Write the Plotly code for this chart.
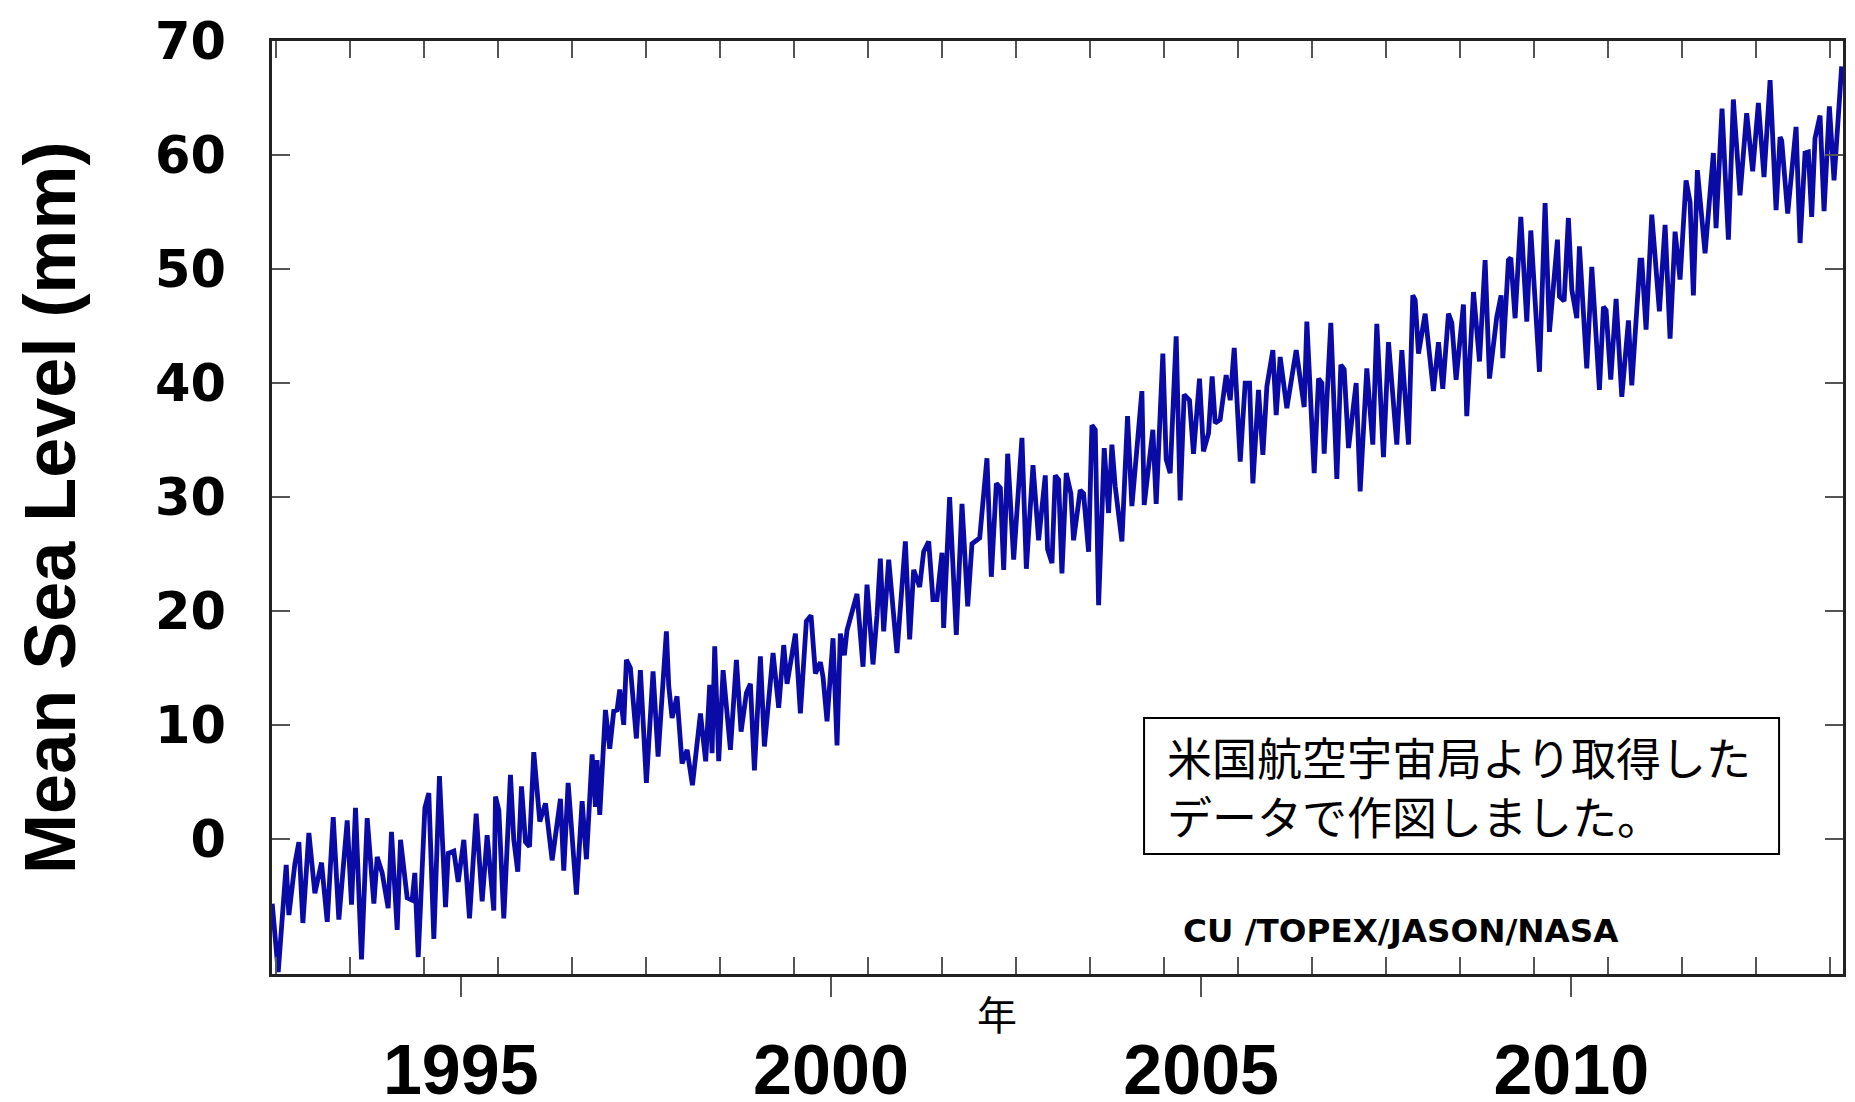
import plotly.graph_objects as go

# --- data (decimal year, mean sea level in mm) ---
years = [
    1992.453, 1992.534, 1992.642, 1992.678, 1992.759, 1992.813, 1992.867, 1992.948, 1993.029, 1993.119,
    1993.196, 1993.277, 1993.353, 1993.466, 1993.524, 1993.578, 1993.659, 1993.736, 1993.826, 1993.871,
    1993.938, 1994.019, 1994.064, 1994.141, 1994.186, 1994.276, 1994.343, 1994.379, 1994.425, 1994.515,
    1994.568, 1994.636, 1994.712, 1994.794, 1994.830, 1994.906, 1994.965, 1995.041, 1995.118, 1995.208,
    1995.289, 1995.356, 1995.446, 1995.469, 1995.514, 1995.581, 1995.671, 1995.716, 1995.770, 1995.820,
    1995.874, 1995.928, 1995.986,
    1996.067, 1996.144, 1996.234, 1996.346, 1996.391, 1996.450, 1996.562, 1996.639, 1996.697, 1996.774,
    1996.819, 1996.841, 1996.877, 1996.954, 1997.012, 1997.066, 1997.111, 1997.147, 1997.201,
    1997.237, 1997.291, 1997.372, 1997.426, 1997.507, 1997.597, 1997.665, 1997.777, 1997.809, 1997.854,
    1997.921, 1997.989, 1998.057, 1998.129, 1998.237, 1998.308, 1998.362, 1998.394, 1998.430, 1998.484,
    1998.543, 1998.642, 1998.723, 1998.786, 1998.858, 1998.912, 1998.966, 1999.047, 1999.101, 1999.159,
    1999.218, 1999.294, 1999.362,
    1999.407, 1999.520, 1999.587, 1999.668, 1999.731, 1999.790, 1999.857, 1999.893, 1999.947, 2000.028,
    2000.082, 2000.127, 2000.181, 2000.217, 2000.352, 2000.433, 2000.487, 2000.568, 2000.622, 2000.667,
    2000.712, 2000.780, 2000.892, 2001.005, 2001.063, 2001.117, 2001.198, 2001.252, 2001.320, 2001.378,
    2001.432, 2001.500, 2001.522, 2001.603, 2001.693, 2001.770, 2001.847, 2001.905, 2002.009, 2002.107,
    2002.166, 2002.234, 2002.288, 2002.333, 2002.387, 2002.468, 2002.580, 2002.639, 2002.729, 2002.805,
    2002.895,
    2002.926, 2002.985, 2003.030, 2003.075, 2003.120, 2003.178, 2003.241, 2003.277, 2003.367, 2003.412,
    2003.480, 2003.525, 2003.570, 2003.615, 2003.691, 2003.750, 2003.795, 2003.840, 2003.930, 2004.006,
    2004.065, 2004.200, 2004.231, 2004.348, 2004.393, 2004.483, 2004.528, 2004.582, 2004.663, 2004.717,
    2004.771, 2004.843, 2004.897, 2004.978, 2005.032, 2005.100, 2005.149, 2005.190, 2005.257, 2005.338,
    2005.393, 2005.447, 2005.528, 2005.595, 2005.654, 2005.699, 2005.775, 2005.834, 2005.888, 2005.969,
    2006.014, 2006.068, 2006.158, 2006.284, 2006.392, 2006.428,
    2006.527, 2006.586, 2006.631, 2006.662, 2006.752, 2006.833, 2006.887, 2006.932, 2006.991, 2007.094,
    2007.148, 2007.238, 2007.319, 2007.373, 2007.463, 2007.531, 2007.643, 2007.711, 2007.801, 2007.859,
    2007.891, 2007.936, 2008.026, 2008.138, 2008.206, 2008.264, 2008.341, 2008.386, 2008.444, 2008.543,
    2008.588, 2008.679, 2008.760, 2008.836, 2008.895, 2008.993, 2009.052, 2009.075, 2009.151, 2009.183,
    2009.241, 2009.318, 2009.399, 2009.453, 2009.570, 2009.646, 2009.705, 2009.813, 2009.840, 2009.903,
    2009.961,
    2010.007, 2010.074, 2010.110, 2010.209, 2010.277, 2010.380, 2010.434, 2010.470, 2010.533, 2010.605,
    2010.682, 2010.772, 2010.817, 2010.929, 2010.952, 2011.010, 2011.087, 2011.190, 2011.267, 2011.334,
    2011.402, 2011.469, 2011.550, 2011.604, 2011.649, 2011.703, 2011.807, 2011.919, 2011.955, 2012.036,
    2012.122, 2012.189, 2012.279, 2012.369, 2012.450, 2012.527, 2012.603, 2012.685, 2012.766, 2012.820,
    2012.842, 2012.923, 2013.036, 2013.090, 2013.157, 2013.202, 2013.247, 2013.292, 2013.360, 2013.414,
    2013.486, 2013.549, 2013.652,
]

msl_mm = [
    -5.7, -11.7, -2.3, -6.7, -2.2, -0.3, -7.4, 0.5, -4.8, -2.1,
    -7.3, 1.9, -7.1, 1.6, -5.8, 2.7, -10.6, 1.8, -5.7, -1.6,
    -3.0, -6.1, 0.6, -8.0, -0.1, -5.2, -5.4, -3.0, -10.4, 2.7,
    4.0, -8.8, 5.5, -6.0, -1.3, -1.1, -3.8, -0.1, -7.0, 2.2,
    -5.5, 0.3, -6.3, 3.7, 2.5, -7.0, 5.6, -0.1, -2.9, 4.6,
    -0.3, -0.7, 7.6,
    1.5, 3.1, -1.9, 3.5, -2.8, 4.9, -4.9, 3.3, -1.8, 7.4,
    2.8, 6.9, 2.1, 11.3, 7.9, 11.2, 11.3, 13.1, 10.0,
    15.7, 15.0, 8.8, 14.8, 4.9, 14.7, 7.2, 18.2, 13.4, 10.6,
    12.5, 6.6, 7.8, 4.7, 11.0, 6.8, 13.5, 7.5, 16.9, 6.8,
    14.8, 7.8, 15.7, 9.4, 12.8, 13.6, 6.0, 16.0, 8.1, 12.5,
    16.3, 11.5, 17.0,
    13.6, 18.0, 11.0, 19.1, 19.6, 14.5, 15.5, 14.2, 10.3, 17.6,
    8.2, 18.0, 16.1, 18.3, 21.5, 15.1, 22.3, 15.3, 19.6, 24.6,
    18.2, 24.5, 16.3, 26.1, 17.5, 23.6, 22.1, 25.2, 26.1, 21.0,
    21.0, 25.1, 18.5, 30.0, 17.9, 29.4, 20.4, 25.9, 26.4, 33.4,
    23.0, 31.2, 30.8, 23.6, 33.8, 24.5, 35.2, 23.7, 32.8, 26.2,
    31.9,
    25.4, 24.2, 31.9, 31.5, 23.3, 32.1, 30.3, 26.2, 30.6, 30.3,
    25.2, 36.3, 35.9, 20.5, 34.3, 28.6, 34.6, 30.9, 26.1, 37.1,
    29.2, 39.3, 29.3, 35.9, 29.4, 42.6, 33.3, 32.1, 44.1, 29.7,
    39.0, 38.5, 33.8, 40.4, 34.0, 35.6, 40.6, 36.5, 36.8, 40.7,
    38.5, 43.1, 33.1, 40.0, 40.0, 31.2, 39.4, 33.7, 39.7, 42.9,
    37.2, 42.3, 37.8, 42.9, 37.9, 45.4,
    32.1, 40.4, 40.0, 33.8, 45.3, 31.6, 41.6, 41.2, 34.3, 40.0,
    30.5, 41.3, 34.6, 45.2, 33.5, 43.6, 34.6, 42.9, 34.6, 47.7,
    47.3, 42.6, 46.1, 39.3, 43.6, 39.5, 46.1, 45.3, 40.3, 46.9,
    37.1, 48.0, 41.9, 50.8, 40.4, 45.8, 47.7, 42.2, 50.8, 51.0,
    45.7, 54.6, 45.4, 53.4, 41.0, 55.8, 44.5, 52.6, 47.6, 47.2,
    54.5,
    48.2, 45.7, 52.0, 41.3, 50.2, 39.4, 46.7, 46.4, 40.3, 47.4,
    38.8, 45.5, 39.8, 50.8, 50.8, 44.7, 54.8, 46.3, 53.9, 43.9,
    53.3, 49.1, 57.8, 55.9, 47.7, 58.7, 51.4, 60.2, 53.6, 64.1,
    52.6, 64.9, 56.5, 63.7, 58.6, 64.6, 58.1, 66.6, 55.2, 61.6,
    61.3, 54.9, 62.5, 52.3, 60.2, 60.3, 54.6, 61.5, 63.5, 55.1,
    64.3, 57.8, 67.8,
]

major_years = [1995, 2000, 2005, 2010]
major_labels = ["1995", "2000", "2005", "2010"]
minor_years = [1992.5 + i for i in range(22)]
y_ticks = [0, 10, 20, 30, 40, 50, 60, 70]

x_range = [1992.45, 2013.67]
y_range = [-11.88, 70.04]

LINE_BLUE = "#0a0aa6"
AXIS_COL = "#222222"
TICK_COL = "#555555"

fig = go.Figure()
fig.add_trace(go.Scatter(
    x=years, y=msl_mm, mode="lines",
    line=dict(color=LINE_BLUE, width=4.8),
    hoverinfo="skip", showlegend=False,
))
# invisible helper trace so the top (mirror) axis is drawn
fig.add_trace(go.Scatter(
    x=[x_range[0]], y=[y_range[0]], xaxis="x2", mode="markers",
    marker=dict(opacity=0), hoverinfo="skip", showlegend=False,
))

# the page body has an 8px margin, so the figure is 8px smaller to fit the window
fig.update_layout(
    width=1847, height=1094,
    margin=dict(l=264, r=12, t=33, b=128, autoexpand=False),
    paper_bgcolor="white", plot_bgcolor="white",
    showlegend=False,
    xaxis=dict(
        range=x_range, tickmode="array", tickvals=major_years, ticktext=major_labels,
        ticks="outside", ticklen=20, tickwidth=2, tickcolor=TICK_COL,
        showline=True, linecolor=AXIS_COL, linewidth=2.5, mirror=True,
        showgrid=False, zeroline=False, automargin=False,
        tickfont=dict(family="Liberation Sans, Arial, sans-serif", size=70, color="black", weight="bold"),
        ticklabelstandoff=13,
        minor=dict(tickmode="array", tickvals=minor_years, ticks="inside",
                   ticklen=17, tickwidth=2, tickcolor=TICK_COL, showgrid=False),
    ),
    xaxis2=dict(
        range=x_range, overlaying="x", side="top", anchor="y",
        tickmode="array", tickvals=minor_years, ticks="inside", ticklen=17,
        tickwidth=2, tickcolor=TICK_COL, showticklabels=False, automargin=False,
        showline=False, showgrid=False, zeroline=False,
    ),
    yaxis=dict(
        range=y_range, tickmode="array", tickvals=y_ticks,
        ticktext=[str(v) for v in y_ticks],
        ticks="inside", ticklen=18, tickwidth=2, tickcolor=TICK_COL,
        showline=True, linecolor=AXIS_COL, linewidth=2.5, mirror="ticks",
        showgrid=False, zeroline=False, automargin=False,
        tickfont=dict(family="DejaVu Sans, sans-serif", size=51, color="black", weight="bold"),
        ticklabelstandoff=33,
    ),
)

# y-axis title
fig.add_annotation(
    text="Mean Sea Level (mm)", xref="paper", yref="paper",
    x=-0.1417, y=0.5, xanchor="center", yanchor="middle", textangle=-90,
    showarrow=False,
    font=dict(family="Liberation Sans, Arial, sans-serif", size=72, color="black", weight="bold"),
)
# x-axis title
fig.add_annotation(
    text="年", xref="paper", yref="paper",
    x=0.4615, y=-0.0423, xanchor="center", yanchor="middle", showarrow=False,
    font=dict(family="Noto Sans CJK JP, sans-serif", size=40, color="black"),
)
# source credit
fig.add_annotation(
    text="CU /TOPEX/JASON/NASA", xref="paper", yref="paper",
    x=0.5786, y=0.0461, xanchor="left", yanchor="middle", showarrow=False,
    font=dict(family="DejaVu Sans, sans-serif", size=32.6, color="black", weight="bold"),
)
# note box
fig.add_shape(
    type="rect", xref="paper", yref="paper",
    x0=0.5551, x1=0.9593, y0=0.1286, y1=0.2744,
    line=dict(color="black", width=2), fillcolor="white", layer="above",
)
fig.add_annotation(
    text="米国航空宇宙局より取得した<br>データで作図しました。", xref="paper", yref="paper",
    x=0.5684, y=0.2015, xanchor="left", yanchor="middle", align="left", showarrow=False,
    font=dict(family="Noto Sans CJK JP, sans-serif", size=45, color="black"),
)

fig.write_html("out.html", config={"displayModeBar": False})
